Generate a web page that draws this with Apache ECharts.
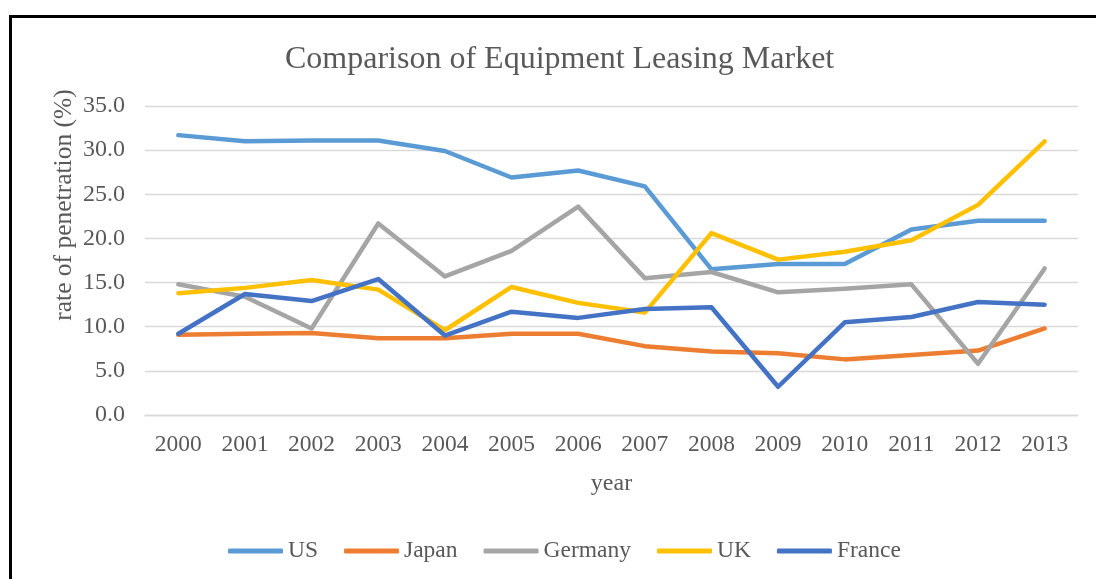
<!DOCTYPE html>
<html>
<head>
<meta charset="utf-8">
<script src="https://cdn.jsdelivr.net/npm/echarts@6/dist/echarts.min.js"></script>
<style>
  html, body { margin: 0; padding: 0; background: #fff; overflow: hidden; }
  #frame { position: absolute; left: 9px; top: 15px; width: 1200px; height: 700px; border: 3px solid #000; box-sizing: border-box; }
  #chart { position: absolute; left: 0; top: 0; width: 1096px; height: 579px; }
</style>
</head>
<body>
<div id="frame"></div>
<div id="chart"></div>
<script>
const years = ['2000', '2001', '2002', '2003', '2004', '2005', '2006', '2007', '2008', '2009', '2010', '2011', '2012', '2013'];

const us = [31.7, 31.0, 31.1, 31.1, 29.9, 26.9, 27.7, 25.9, 16.5, 17.1, 17.1, 21.0, 22.0, 22.0];
const japan = [9.1, 9.2, 9.3, 8.7, 8.7, 9.2, 9.2, 7.8, 7.2, 7.0, 6.3, 6.8, 7.3, 9.8];
const germany = [14.8, 13.4, 9.8, 21.7, 15.7, 18.6, 23.6, 15.5, 16.2, 13.9, 14.3, 14.8, 5.8, 16.6];
const uk = [13.8, 14.4, 15.3, 14.2, 9.6, 14.5, 12.7, 11.6, 20.6, 17.6, 18.5, 19.8, 23.8, 31.0];
const france = [9.2, 13.7, 12.9, 15.4, 9.0, 11.7, 11.0, 12.0, 12.2, 3.2, 10.5, 11.1, 12.8, 12.5];

const font = '"Liberation Serif", "Times New Roman", serif';
const textColor = '#595959';

let chart = echarts.init(document.getElementById('chart'), null, { renderer: 'canvas' });

function line(name, data, color) {
  return {
    name: name,
    type: 'line',
    data: data,
    symbol: 'none',
    smooth: false,
    lineStyle: { width: 4.5, color: color, cap: 'round', join: 'round' },
    itemStyle: { color: color }
  };
}

chart.setOption({
  animation: false,
  backgroundColor: 'transparent',
  title: {
    text: 'Comparison of Equipment Leasing Market',
    left: 280,
    top: 39,
    textStyle: { fontFamily: font, fontSize: 32, fontWeight: 'normal', color: textColor }
  },
  legend: {
    top: 534,
    left: 223,
    itemWidth: 55,
    itemHeight: 5,
    itemGap: 26,
    icon: 'roundRect',
    textStyle: { fontFamily: font, fontSize: 23.5, color: textColor }
  },
  grid: { left: 145, right: 18, top: 106, bottom: 164 },
  xAxis: {
    type: 'category',
    data: years,
    boundaryGap: true,
    name: 'year',
    nameLocation: 'middle',
    nameGap: 57,
    nameTextStyle: { fontFamily: font, fontSize: 24, color: textColor },
    axisLine: { lineStyle: { color: '#D9D9D9', width: 1.3 } },
    axisTick: { show: false },
    axisLabel: { fontFamily: font, fontSize: 23.5, color: textColor, margin: 18 }
  },
  yAxis: {
    type: 'value',
    min: 0,
    max: 35,
    interval: 5,
    axisLine: { show: false },
    axisTick: { show: false },
    splitLine: { lineStyle: { color: '#D9D9D9', width: 1.3 } },
    axisLabel: {
      fontFamily: font, fontSize: 24, color: textColor, margin: 20,
      formatter: v => v.toFixed(1)
    }
  },
  graphic: [
    {
      type: 'text',
      x: 64,
      y: 205,
      rotation: Math.PI / 2,
      style: {
        text: 'rate of penetration (%)',
        fontFamily: font,
        fontSize: 25.5,
        fill: textColor,
        align: 'center',
        verticalAlign: 'middle'
      }
    }
  ],
  series: [
    line('US', us, '#5B9BD5'),
    line('Japan', japan, '#ED7D31'),
    line('Germany', germany, '#A5A5A5'),
    line('UK', uk, '#FFC000'),
    line('France', france, '#4472C4')
  ]
});
</script>
</body>
</html>
